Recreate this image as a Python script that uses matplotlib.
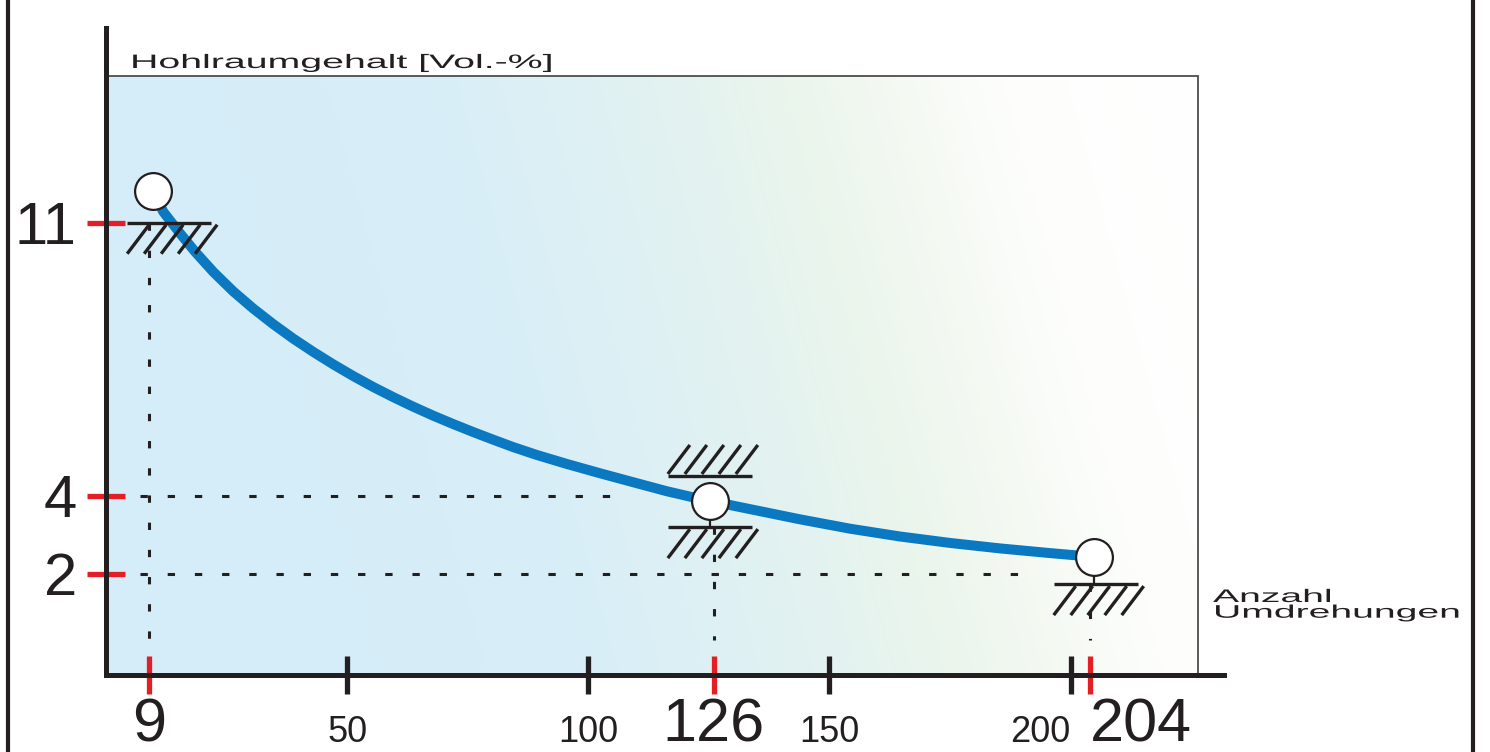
import numpy as np
import matplotlib
matplotlib.use('Agg')  # no display
import matplotlib.pyplot as plt
from matplotlib import patheffects
from matplotlib.lines import Line2D
from matplotlib.patches import Rectangle
from matplotlib.transforms import Affine2D

# compaction curve
curve_x = [9.75, 11.88, 15.34, 18.45, 22.25, 26.39, 30.54, 34.69, 38.83, 42.98,
           47.13, 51.28, 55.42, 59.57, 63.72, 67.86, 72.01, 76.16, 80.30, 84.45,
           89.30, 95.52, 102.43, 109.33, 116.26, 121.5, 125.2, 129.03, 143.89,
           154.26, 164.63, 175.0, 185.36, 195.73, 201.33, 204.92]
curve_y = [11.81, 11.28, 10.73, 10.26, 9.74, 9.24, 8.80, 8.40, 8.03, 7.69,
           7.37, 7.07, 6.79, 6.53, 6.285, 6.055, 5.84, 5.635, 5.44, 5.25,
           5.05, 4.82, 4.58, 4.35, 4.12, 3.97, 3.87, 3.775, 3.40,
           3.16, 2.96, 2.795, 2.655, 2.535, 2.475, 2.43]

# the three marked states (circles)
point_x = [9.75, 125.2, 204.92]
point_y = [11.81, 3.87, 2.43]

# hatched supports under / over the circles
support_x = [13.1, 125.2, 125.2, 205.2]
support_y = [11.0, 4.51, 3.20, 1.74]
support_side = ['below', 'above', 'below', 'below']

# tick values
x_marks = [9, 126, 204]
x_minor = [50, 100, 150, 200]
y_marks = [2, 4, 11]

# dotted guide lines
guide_v_x = [9, 126, 204]
guide_v_top = [11.0, 3.20, 1.74]
guide_h_y = [4, 2]
guide_h_end = [107.6, 189.5]

y_label = 'Hohlraumgehalt [Vol.-%]'
x_label = 'Anzahl\nUmdrehungen'

BLACK = '#231f20'
RED = '#e31e24'
BLUE = '#0a79c1'
FONT = 'Liberation Sans'


class Stretch(patheffects.AbstractPathEffect):
    """Draw text glyphs widened horizontally (extended typeface look)."""

    def __init__(self, sx):
        super().__init__()
        self.sx = sx

    def draw_path(self, renderer, gc, tpath, affine, rgbFace=None):
        renderer.draw_path(gc, tpath, Affine2D().scale(self.sx, 1.0) + affine, rgbFace)


W, H, DPI = 1490, 752, 100
fig = plt.figure(figsize=(W / DPI, H / DPI), dpi=DPI)
ax = fig.add_axes([106 / W, 77 / H, 1118 / W, 647 / H])

xlim = (0, 231.8)
ylim = (-0.589, 15.99)
kx = (xlim[1] - xlim[0]) / 1118  # data units per pixel
ky = (ylim[1] - ylim[0]) / 647

# shaded diagram box with blue -> green -> white gradient
box_right = 226.4
box_top = 14.76
u = np.linspace(0, 1, 400)[None, :]
v = np.linspace(0, 1, 200)[:, None]
t = np.clip(u - 0.15 * v, 0, 1)
stops = [0, 0.3, 0.5, 0.62, 0.72, 0.82, 1.0]
cols = np.array([(213, 237, 249), (216, 238, 247), (226, 242, 241), (234, 245, 236),
                 (244, 249, 242), (253, 254, 252), (255, 255, 255)]) / 255
img = np.stack([np.interp(t, stops, cols[:, i]) for i in range(3)], axis=-1)
ax.imshow(img, extent=(0, box_right, ylim[0], box_top), aspect='auto',
          origin='upper', interpolation='bilinear', zorder=0)
ax.add_patch(Rectangle((0, ylim[0]), box_right, box_top - ylim[0], fill=False,
                       ec='#4d4d4d', lw=1.3, zorder=1))

# dotted guides
dots = dict(color=BLACK, lw=2.2, ls=(0, (2.4, 6.5)), zorder=2)
for gx, gtop in zip(guide_v_x, guide_v_top):
    ax.plot([gx, gx], [gtop, 0.3], **dots)
for gy, gend in zip(guide_h_y, guide_h_end):
    ax.plot([7.0, gend], [gy, gy], **dots)

# the curve
ax.plot(curve_x, curve_y, color=BLUE, lw=7.2, solid_capstyle='round',
        solid_joinstyle='round', zorder=3)

# supports
half = 42 * kx
for sx, sy, side in zip(support_x, support_y, support_side):
    ax.plot([sx - half, sx + half], [sy, sy], color=BLACK, lw=2.4,
            solid_capstyle='butt', zorder=4)
    if side == 'below':
        y0, y1 = sy - 31 * ky, sy - 2 * ky
    else:
        y0, y1 = sy + 2 * ky, sy + 31 * ky
    for i in range(5):
        x0 = sx - half + (0 + 17 * i) * kx
        ax.plot([x0, x0 + 22 * kx], [y0, y1], color=BLACK, lw=2.4,
                solid_capstyle='butt', zorder=4)

# little stems between the lower circles and their supports
for px, py, sy in zip(point_x[1:], point_y[1:], support_y[2:]):
    ax.plot([px, px], [sy, py], color=BLACK, lw=1.6, zorder=4)

# circles
ax.plot(point_x, point_y, 'o', ms=26.5, mfc='white', mec=BLACK, mew=1.6, zorder=6)

# axes, ticks
ax.set_xlim(*xlim)
ax.set_ylim(*ylim)
for side in ['top', 'right']:
    ax.spines[side].set_visible(False)
for side in ['left', 'bottom']:
    ax.spines[side].set_linewidth(3.6)
    ax.spines[side].set_color(BLACK)
    ax.spines[side].set_capstyle('projecting')

ax.set_xticks(x_marks, [str(m) for m in x_marks])
ax.set_xticks(x_minor, [str(m) for m in x_minor], minor=True)
ax.set_yticks(y_marks, [str(m) for m in y_marks])
ax.tick_params(axis='x', which='major', direction='inout', length=28, width=3.8,
               color=RED, labelcolor=BLACK, pad=2, labelsize=44)
ax.tick_params(axis='x', which='minor', direction='inout', length=28, width=3.8,
               color=BLACK, labelcolor=BLACK, pad=15, labelsize=26)
ax.tick_params(axis='y', which='major', direction='inout', length=28, width=3.8,
               color=RED, labelcolor=BLACK, pad=7, labelsize=43)
ax.tick_params(axis='y', which='minor', left=False)
for lab in ax.get_xticklabels() + ax.get_xticklabels(minor=True) + ax.get_yticklabels():
    lab.set_family(FONT)

# 200 and 204 sit close together: push their labels apart like the original
ax.xaxis.get_major_ticks()[-1].label1.set_horizontalalignment('left')
ax.xaxis.get_minor_ticks()[-1].label1.set_horizontalalignment('right')

# axis captions (wide typeface in the original)
fig.text(130 / W, 1 - 68 / H, y_label, fontsize=14, family=FONT, color=BLACK,
         ha='left', va='baseline', path_effects=[Stretch(2.02)])
fig.text(1213 / W, 1 - 589 / H, x_label, fontsize=13.1, family=FONT, color=BLACK,
         ha='left', va='top', linespacing=0.9, path_effects=[Stretch(2.15)])

# outer frame lines of the page
for fx in [8, 1473]:
    fig.add_artist(Line2D([fx / W, fx / W], [0, 1], color=BLACK, lw=3))

fig.savefig('out.png', dpi=DPI)
